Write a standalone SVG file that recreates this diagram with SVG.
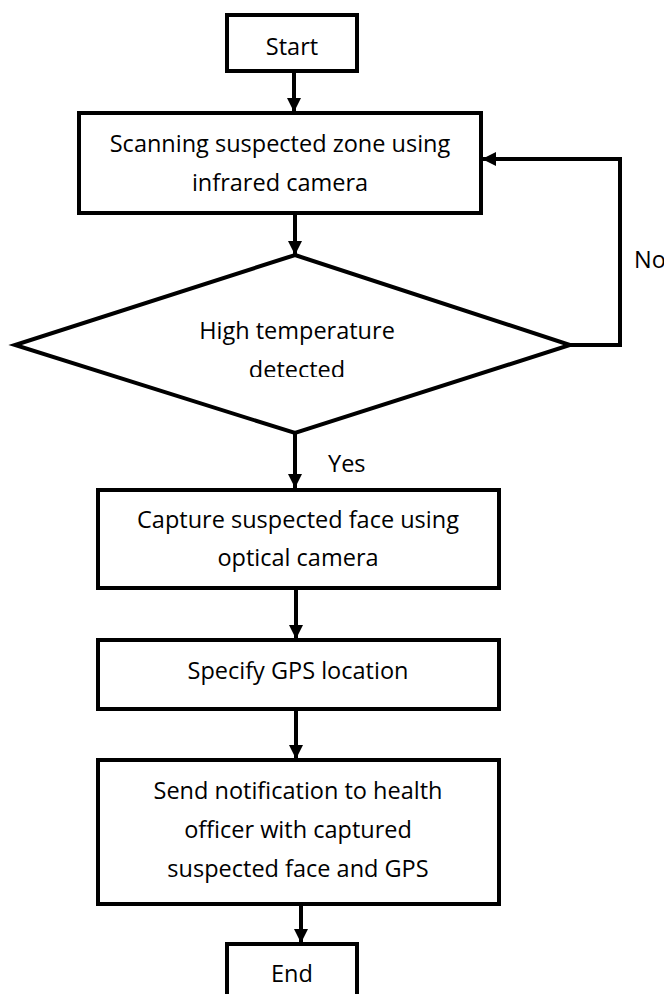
<svg xmlns="http://www.w3.org/2000/svg" width="664" height="994" viewBox="0 0 664 994">
  <style>
    .box { fill: #ffffff; stroke: #000000; stroke-width: 4; }
    .lbl { font-family: "Open Sans", "Liberation Sans", sans-serif; font-size: 23.5px; fill: #000000; text-anchor: middle; }
    .side { font-family: "Open Sans", "Liberation Sans", sans-serif; font-size: 23.5px; fill: #000000; }
    .edge { fill: none; stroke: #000000; stroke-width: 4; }
  </style>
  <defs>
    <marker id="arrow" viewBox="0 0 14 14" refX="14" refY="7" markerWidth="14" markerHeight="14" markerUnits="userSpaceOnUse" orient="auto">
      <path d="M0,0 L14,7 L0,14 Z" fill="#000000"/>
    </marker>
    <clipPath id="decisionClip">
      <rect x="0" y="250" width="664" height="127"/>
    </clipPath>
  </defs>
  <rect width="664" height="994" fill="#ffffff"/>

  <g id="connectors">
    <line class="edge" x1="294" y1="71" x2="294" y2="112" marker-end="url(#arrow)"/>
    <line class="edge" x1="295" y1="213" x2="295" y2="255" marker-end="url(#arrow)"/>
    <line class="edge" x1="295" y1="433" x2="295" y2="488" marker-end="url(#arrow)"/>
    <line class="edge" x1="296" y1="588" x2="296" y2="639" marker-end="url(#arrow)"/>
    <line class="edge" x1="296" y1="709" x2="296" y2="759" marker-end="url(#arrow)"/>
    <line class="edge" x1="301" y1="904" x2="301" y2="943" marker-end="url(#arrow)"/>
    <polyline class="edge" points="570,345 620,345 620,159 482,159" marker-end="url(#arrow)"/>
    <text class="side" x="634" y="268">No</text>
    <text class="side" x="328" y="472">Yes</text>
  </g>

  <g id="start">
    <rect class="box" x="227" y="15" width="130" height="56"/>
    <text class="lbl" x="292" y="55">Start</text>
  </g>

  <g id="scan">
    <rect class="box" x="79" y="113" width="402" height="100"/>
    <text class="lbl" x="280" y="152">Scanning suspected zone using</text>
    <text class="lbl" x="280" y="191">infrared camera</text>
  </g>

  <g id="decision">
    <polygon class="box" points="295,255 570,345 295,433 15,345"/>
    <g clip-path="url(#decisionClip)">
      <text class="lbl" x="297" y="339">High temperature</text>
      <text class="lbl" x="297" y="378">detected</text>
    </g>
  </g>

  <g id="capture">
    <rect class="box" x="98" y="490" width="401" height="98"/>
    <text class="lbl" x="298" y="528">Capture suspected face using</text>
    <text class="lbl" x="298" y="566">optical camera</text>
  </g>

  <g id="gps">
    <rect class="box" x="98" y="640" width="401" height="69"/>
    <text class="lbl" x="298" y="679">Specify GPS location</text>
  </g>

  <g id="notify">
    <rect class="box" x="98" y="760" width="401" height="144"/>
    <text class="lbl" x="298" y="799">Send notification to health</text>
    <text class="lbl" x="298" y="838">officer with captured</text>
    <text class="lbl" x="298" y="877">suspected face and GPS</text>
  </g>

  <g id="end">
    <rect class="box" x="227" y="944" width="130" height="70"/>
    <text class="lbl" x="292" y="982">End</text>
  </g>
</svg>
